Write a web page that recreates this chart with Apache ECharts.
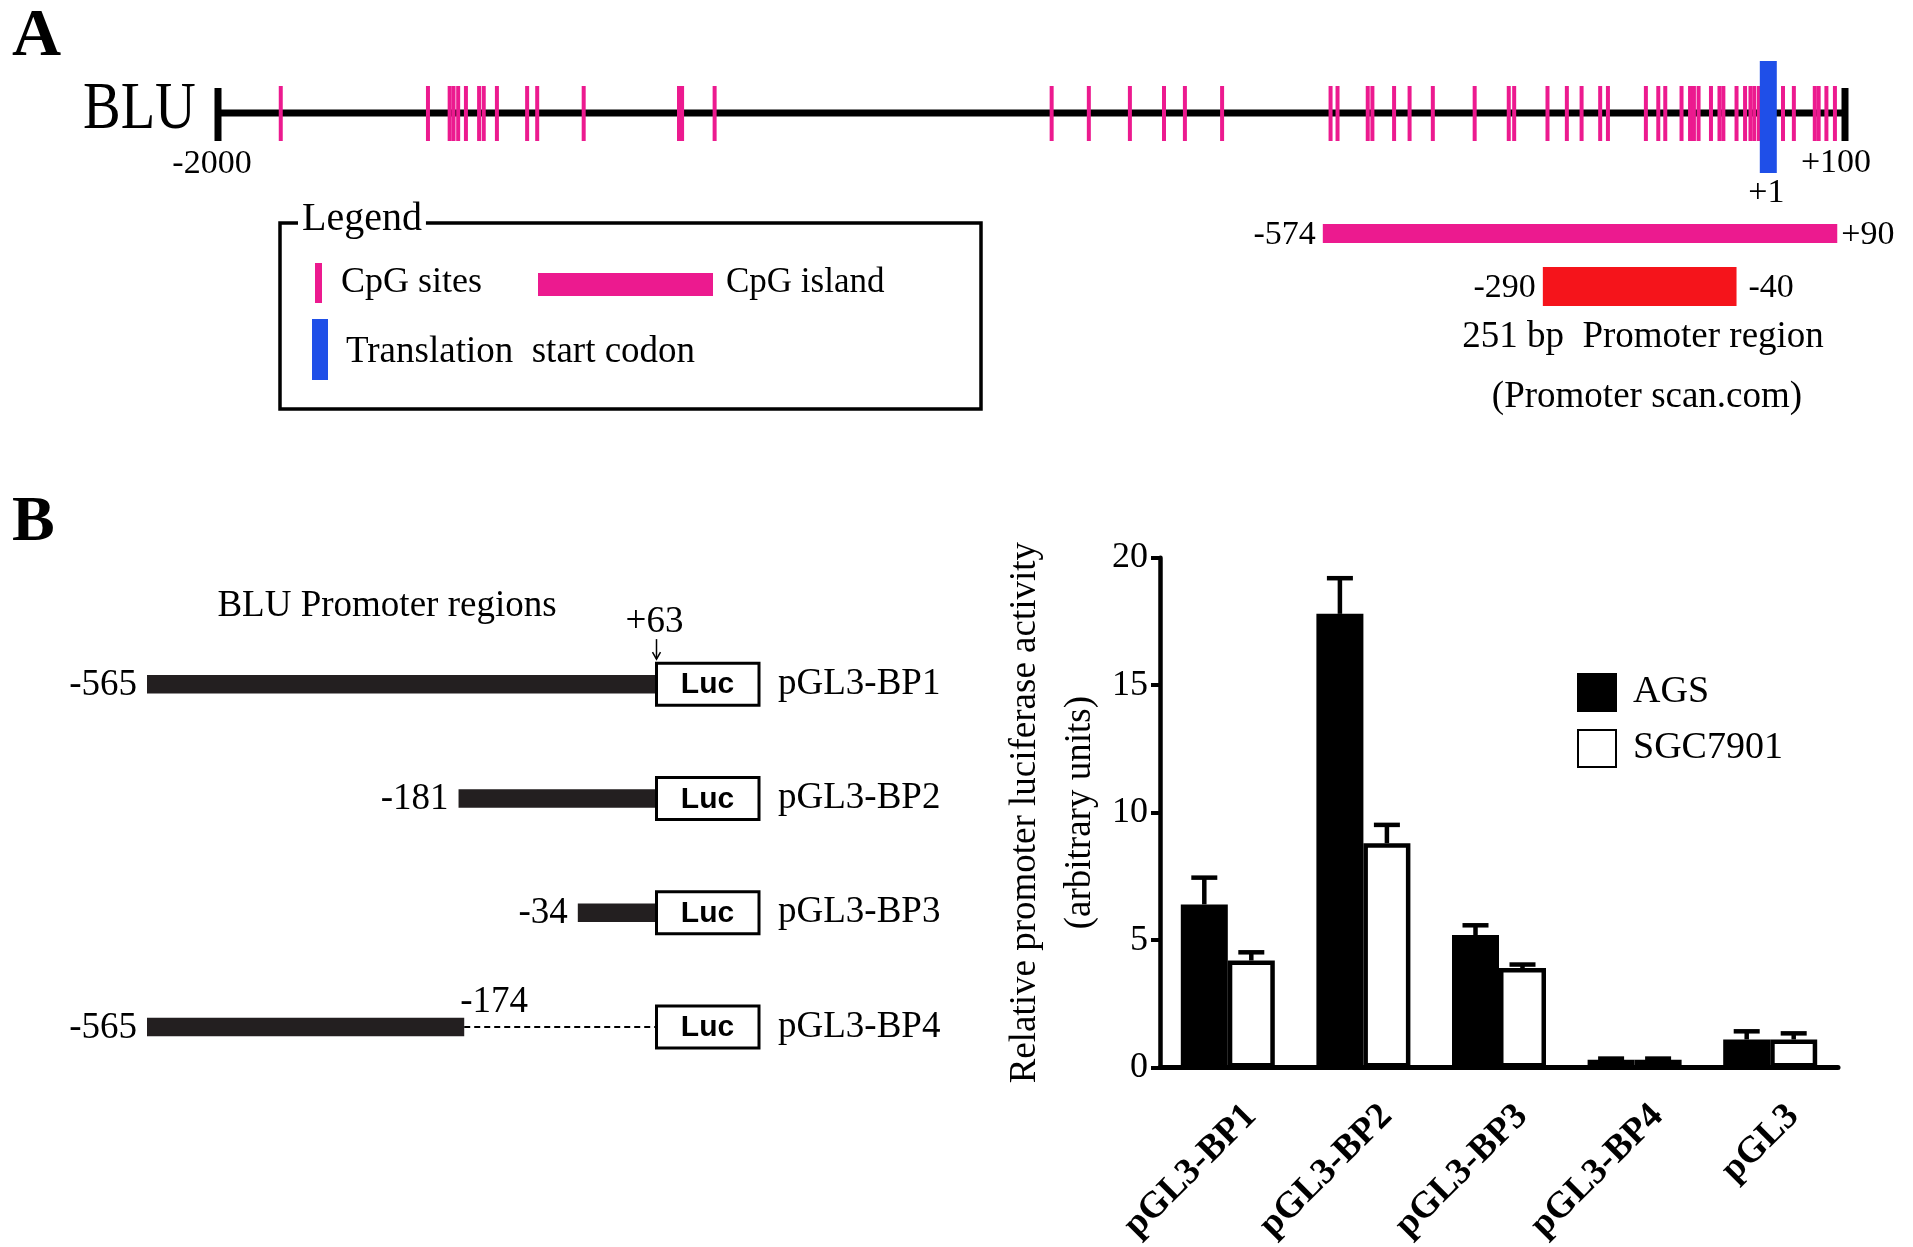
<!DOCTYPE html>
<html>
<head>
<meta charset="utf-8">
<script src="https://cdn.jsdelivr.net/npm/echarts@6/dist/echarts.min.js"></script>
<style>
	html, body { margin: 0; padding: 0; background: #fff; }
	#chart { width: 1913px; height: 1247px; }
</style>
</head>
<body>
<div id="chart"></div>
<script>
// Panel A: BLU upstream region, bp relative to the translation start codon
const geneRange = [ -2000, 100 ];
const cpgSites = [
	-1919, -1729, -1701, -1696, -1690, -1680, -1663, -1657, -1640, -1601, -1588, -1528,
	-1405, -1401, -1359,
	-924, -876, -823, -779, -752, -704,
	-564, -555, -516, -510, -482, -462, -432, -378, -334, -327, -284, -259, -240, -216, -206,
	-157, -141, -132, -111, -100, -95, -89, -73, -62, -57, -40, -29, -22, -17, -11,
	20, 34, 61, 66, 76, 87
];
const startCodon = 1;
const cpgIsland = [ -574, 90 ];
const promoterRegion = [ -290, -40 ];

// Panel B left: reporter constructs
const constructNames = [ 'pGL3-BP1', 'pGL3-BP2', 'pGL3-BP3', 'pGL3-BP4' ];
const constructStart = [ -565, -181, -34, -565 ];
const constructEnd = [ 63, 63, 63, -174 ];
const lucStart = 63;

// Panel B right: luciferase activity (mean and SEM)
const reporterNames = [ 'pGL3-BP1', 'pGL3-BP2', 'pGL3-BP3', 'pGL3-BP4', 'pGL3' ];
const agsMean = [ 6.4, 17.8, 5.2, 0.3, 1.1 ];
const agsErr = [ 1.05, 1.4, 0.38, 0.05, 0.32 ];
const sgcMean = [ 4.2, 8.8, 3.9, 0.3, 1.1 ];
const sgcErr = [ 0.32, 0.72, 0.14, 0.05, 0.24 ];
const activityTicks = [ 0, 5, 10, 15, 20 ];

const FONT = '"Liberation Serif", "Times New Roman", serif';
const PINK = '#ec1a8f';
const BLUE = '#1f4fe8';
const RED = '#f5141b';
const INK = '#000';
const INSERT_INK = '#231f20';

// vertical layout of panel A rows (px)
const LINE_Y = 113;
const ISLAND_Y = 233.5;
const PROMOTER_Y = 286.5;

const BAR_W = 47;

function fmtPos( v ) {
	return v > 0 ? '+' + v : String( v );
}

function label( x, y, text, size, align, weight ) {
	return {
		type: 'text',
		x: x,
		y: y,
		style: {
			text: text,
			font: ( weight || 'normal' ) + ' ' + size + 'px ' + FONT,
			fill: INK,
			align: align || 'center',
			verticalAlign: 'middle',
			textAlign: align || 'center',
			textVerticalAlign: 'middle'
		}
	};
}

function px( api, v ) {
	return api.coord( [ v, 0 ] )[ 0 ];
}

const chart = echarts.init( document.getElementById( 'chart' ), null, { renderer: 'canvas' } );

const option = {
	animation: false,
	backgroundColor: '#fff',
	grid: [
		{ left: 218, width: 1627, top: 40, height: 300 },
		{ left: 147, width: 509.5, top: 627, height: 457 },
		{ left: 1160, width: 678, top: 557.8, height: 509.7 }
	],
	xAxis: [
		{ gridIndex: 0, type: 'value', min: geneRange[ 0 ], max: geneRange[ 1 ], show: false },
		{ gridIndex: 1, type: 'value', min: constructStart[ 0 ], max: lucStart, show: false },
		{
			gridIndex: 2,
			type: 'category',
			data: reporterNames,
			axisLine: { lineStyle: { color: INK, width: 5 } },
			axisTick: { alignWithLabel: true, length: 9, lineStyle: { color: INK, width: 4 } },
			axisLabel: { show: false }
		}
	],
	yAxis: [
		{ gridIndex: 0, type: 'value', min: 0, max: 1, show: false },
		{
			gridIndex: 1,
			type: 'category',
			data: constructNames,
			inverse: true,
			position: 'right',
			axisLine: { show: false },
			axisTick: { show: false },
			axisLabel: { margin: 121.5, fontFamily: FONT, fontSize: 37, color: INK }
		},
		{
			gridIndex: 2,
			type: 'value',
			min: activityTicks[ 0 ],
			max: activityTicks[ activityTicks.length - 1 ],
			interval: activityTicks[ 1 ] - activityTicks[ 0 ],
			splitLine: { show: false },
			axisLine: { show: true, lineStyle: { color: INK, width: 4.5 } },
			axisTick: { show: true, length: 9, lineStyle: { color: INK, width: 4 } },
			axisLabel: { margin: 12, fontFamily: FONT, fontSize: 36, color: INK },
			name: 'Relative promoter luciferase activity\n(arbitrary units)',
			nameLocation: 'middle',
			nameRotate: 90,
			nameGap: 48,
			nameTextStyle: { fontFamily: FONT, fontSize: 37, lineHeight: 55, color: INK }
		}
	],
	legend: {
		left: 1572,
		top: 668,
		orient: 'vertical',
		itemWidth: 38,
		itemHeight: 37,
		itemGap: 17,
		selectedMode: false,
		textStyle: { fontFamily: FONT, fontSize: 38, color: INK, padding: [ 0, 0, 0, 12 ] },
		data: [ { name: 'AGS', icon: 'rect' }, { name: 'SGC7901', icon: 'rect' } ]
	},
	graphic: [
		label( 12, 37.5, 'A', 68, 'left', 'bold' ),
		label( 12, 523.5, 'B', 64, 'left', 'bold' ),
		Object.assign( label( 83, 110, 'BLU', 68, 'left' ), { scaleX: 0.83 } ),
		label( 1643, 337, '251 bp  Promoter region', 37 ),
		label( 1647, 397, '(Promoter scan.com)', 37 ),
		// legend box of panel A
		{
			type: 'rect',
			shape: { x: 280, y: 223, width: 701, height: 186 },
			style: { fill: 'none', stroke: INK, lineWidth: 3.5 }
		},
		{
			type: 'text',
			x: 298,
			y: 219,
			style: {
				text: 'Legend',
				font: '40px ' + FONT,
				fill: INK,
				align: 'left',
				verticalAlign: 'middle',
				textAlign: 'left',
				textVerticalAlign: 'middle',
				backgroundColor: '#fff',
				padding: [ 0, 4, 0, 4 ]
			}
		},
		{ type: 'rect', shape: { x: 315, y: 263, width: 7, height: 40 }, style: { fill: PINK } },
		label( 341, 283, 'CpG sites', 36, 'left' ),
		{ type: 'rect', shape: { x: 538, y: 273, width: 175, height: 23 }, style: { fill: PINK } },
		label( 726, 283, 'CpG island', 35, 'left' ),
		{ type: 'rect', shape: { x: 312, y: 319, width: 16, height: 61 }, style: { fill: BLUE } },
		label( 346, 352, 'Translation  start codon', 37, 'left' ),
		label( 387, 606, 'BLU Promoter regions', 37 )
	],
	series: [
		// gene backbone with end ticks and end labels
		{
			type: 'custom',
			xAxisIndex: 0,
			yAxisIndex: 0,
			clip: false,
			z: 2,
			data: [ [ geneRange[ 0 ], 0, geneRange[ 1 ] ] ],
			renderItem: function ( params, api ) {
				const x0 = px( api, api.value( 0 ) );
				const x1 = px( api, api.value( 2 ) );
				return {
					type: 'group',
					children: [
						{ type: 'rect', shape: { x: x0, y: LINE_Y - 3.5, width: x1 - x0, height: 7 }, style: { fill: INK } },
						{ type: 'rect', shape: { x: x0 - 3.5, y: LINE_Y - 25, width: 7, height: 53 }, style: { fill: INK } },
						{ type: 'rect', shape: { x: x1 - 3.5, y: LINE_Y - 25, width: 7, height: 53 }, style: { fill: INK } },
						label( x0 - 6, LINE_Y + 51, fmtPos( api.value( 0 ) ), 34 ),
						label( x1 - 9, LINE_Y + 50, fmtPos( api.value( 2 ) ), 34 )
					]
				};
			}
		},
		// CpG sites
		{
			type: 'custom',
			xAxisIndex: 0,
			yAxisIndex: 0,
			clip: false,
			z: 3,
			data: cpgSites.map( ( v ) => [ v, 0 ] ),
			renderItem: function ( params, api ) {
				const x = px( api, api.value( 0 ) );
				return {
					type: 'rect',
					shape: { x: x - 2, y: LINE_Y - 27, width: 4, height: 55 },
					style: { fill: PINK }
				};
			}
		},
		// translation start codon
		{
			type: 'custom',
			xAxisIndex: 0,
			yAxisIndex: 0,
			clip: false,
			z: 4,
			data: [ [ startCodon, 0 ] ],
			renderItem: function ( params, api ) {
				const x = px( api, api.value( 0 ) );
				return {
					type: 'group',
					children: [
						{ type: 'rect', shape: { x: x - 8.5, y: LINE_Y - 52, width: 17, height: 112 }, style: { fill: BLUE } },
						label( x - 2, LINE_Y + 80, fmtPos( api.value( 0 ) ), 34 )
					]
				};
			}
		},
		// CpG island and predicted promoter region
		{
			type: 'custom',
			xAxisIndex: 0,
			yAxisIndex: 0,
			clip: false,
			z: 2,
			data: [
				[ cpgIsland[ 0 ], 0, cpgIsland[ 1 ] ],
				[ promoterRegion[ 0 ], 1, promoterRegion[ 1 ] ]
			],
			renderItem: function ( params, api ) {
				const x0 = px( api, api.value( 0 ) );
				const x1 = px( api, api.value( 2 ) );
				const isIsland = params.dataIndex === 0;
				const y = isIsland ? ISLAND_Y : PROMOTER_Y;
				const h = isIsland ? 19 : 39;
				return {
					type: 'group',
					children: [
						{
							type: 'rect',
							shape: { x: x0, y: y - h / 2, width: x1 - x0, height: h },
							style: { fill: isIsland ? PINK : RED }
						},
						label( x0 - 7, y + 1.5, fmtPos( api.value( 0 ) ), 34, 'right' ),
						label( x1 + ( isIsland ? 4 : 12 ), y + 1.5, fmtPos( api.value( 2 ) ), 34, 'left' )
					]
				};
			}
		},
		// reporter constructs
		{
			type: 'custom',
			xAxisIndex: 1,
			yAxisIndex: 1,
			clip: false,
			encode: { x: [ 0, 2 ], y: 1 },
			data: constructNames.map( ( n, i ) => [ constructStart[ i ], i, constructEnd[ i ] ] ),
			renderItem: function ( params, api ) {
				const row = api.value( 1 );
				const start = api.value( 0 );
				const end = api.value( 2 );
				const y = api.coord( [ start, row ] )[ 1 ];
				const x0 = api.coord( [ start, row ] )[ 0 ];
				const x1 = api.coord( [ end, row ] )[ 0 ];
				const xl = api.coord( [ lucStart, row ] )[ 0 ];
				const children = [
					{ type: 'rect', shape: { x: x0, y: y - 9.25, width: x1 - x0, height: 18.5 }, style: { fill: INSERT_INK } },
					label( x0 - 10, y + 1, fmtPos( start ), 37, 'right' )
				];
				if ( end < lucStart ) {
					children.push( {
						type: 'line',
						shape: { x1: x1, y1: y, x2: xl, y2: y },
						style: { stroke: INK, lineWidth: 2, lineDash: [ 6, 4 ] }
					} );
					children.push( label( x1 - 4, y - 25, fmtPos( end ), 37, 'left' ) );
				}
				children.push( {
					type: 'rect',
					shape: { x: xl, y: y - 21, width: 102.5, height: 42 },
					style: { fill: '#fff', stroke: INK, lineWidth: 3 }
				} );
				children.push( {
					type: 'text',
					x: xl + 51,
					y: y + 1,
					style: {
						text: 'Luc',
						font: 'bold 30px "Liberation Sans", Arial, sans-serif',
						fill: INK,
						align: 'center',
						verticalAlign: 'middle',
						textAlign: 'center',
						textVerticalAlign: 'middle'
					}
				} );
				return { type: 'group', children: children };
			}
		},
		// +63 marker above the first construct
		{
			type: 'custom',
			xAxisIndex: 1,
			yAxisIndex: 1,
			clip: false,
			data: [ [ lucStart, 0 ] ],
			renderItem: function ( params, api ) {
				const p = api.coord( [ api.value( 0 ), api.value( 1 ) ] );
				return {
					type: 'group',
					children: [
						label( p[ 0 ] - 2, p[ 1 ] - 62, fmtPos( api.value( 0 ) ), 37 ),
						{ type: 'line', shape: { x1: p[ 0 ], y1: p[ 1 ] - 45, x2: p[ 0 ], y2: p[ 1 ] - 25 }, style: { stroke: INK, lineWidth: 1.5 } },
						{
							type: 'polyline',
							shape: { points: [ [ p[ 0 ] - 4, p[ 1 ] - 32 ], [ p[ 0 ], p[ 1 ] - 25 ], [ p[ 0 ] + 4, p[ 1 ] - 32 ] ] },
							style: { stroke: INK, lineWidth: 1.5, fill: 'none' }
						}
					]
				};
			}
		},
		// luciferase activity bars
		{
			name: 'AGS',
			type: 'bar',
			xAxisIndex: 2,
			yAxisIndex: 2,
			barWidth: BAR_W,
			barGap: '0%',
			data: agsMean,
			itemStyle: { color: INK, borderColor: INK, borderWidth: 2 }
		},
		{
			name: 'SGC7901',
			type: 'bar',
			xAxisIndex: 2,
			yAxisIndex: 2,
			barWidth: BAR_W,
			barGap: '0%',
			data: sgcMean,
			itemStyle: { color: '#fff', borderColor: INK, borderWidth: 4.5 }
		},
		// error bars (upper SEM only)
		{
			type: 'custom',
			xAxisIndex: 2,
			yAxisIndex: 2,
			clip: false,
			z: 5,
			data: reporterNames.flatMap( ( n, i ) => [
				[ i, agsMean[ i ], agsMean[ i ] + agsErr[ i ], -1 ],
				[ i, sgcMean[ i ], sgcMean[ i ] + sgcErr[ i ], 1 ]
			] ),
			renderItem: function ( params, api ) {
				const cat = api.value( 0 );
				const x = api.coord( [ cat, 0 ] )[ 0 ] + api.value( 3 ) * BAR_W / 2;
				const yMean = api.coord( [ cat, api.value( 1 ) ] )[ 1 ];
				const yTop = api.coord( [ cat, api.value( 2 ) ] )[ 1 ];
				return {
					type: 'group',
					children: [
						{ type: 'line', shape: { x1: x, y1: yMean, x2: x, y2: yTop }, style: { stroke: INK, lineWidth: 4.5 } },
						{ type: 'line', shape: { x1: x - 13, y1: yTop, x2: x + 13, y2: yTop }, style: { stroke: INK, lineWidth: 4.5 } }
					]
				};
			}
		},
		// rotated category labels
		{
			type: 'custom',
			xAxisIndex: 2,
			yAxisIndex: 2,
			clip: false,
			data: reporterNames.map( ( n, i ) => [ i, 0 ] ),
			renderItem: function ( params, api ) {
				const p = api.coord( [ api.value( 0 ), 0 ] );
				return {
					type: 'text',
					x: p[ 0 ] + 10,
					y: p[ 1 ] + 30,
					rotation: Math.PI / 4,
					style: {
						text: reporterNames[ params.dataIndex ],
						font: 'bold 37px ' + FONT,
						fill: INK,
						align: 'right',
						verticalAlign: 'top',
						textAlign: 'right',
						textVerticalAlign: 'top'
					}
				};
			}
		}
	]
};

chart.setOption( option );
</script>
</body>
</html>
